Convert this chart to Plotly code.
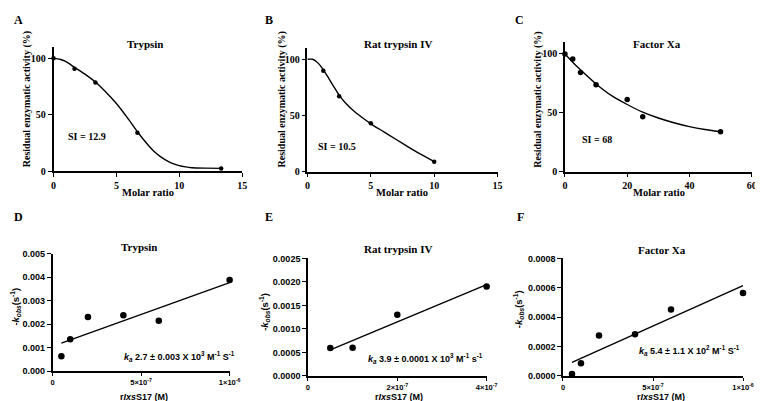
import plotly.graph_objects as go

# ---------------- data ----------------
# Panel A - Trypsin
A_x = [0, 1.67, 3.33, 6.67, 13.33]
A_y = [100, 90.8, 78.7, 34.2, 2.6]
A_curve_x = [0, 0.5, 1, 1.67, 2.5, 3.33, 4, 5, 6, 6.67, 7.5, 8, 8.5, 9, 9.5, 10, 10.5, 11, 12, 13.33]
A_curve_y = [100, 99.2, 97, 92, 86, 79, 72, 60, 45.5, 35, 23.5, 17.5, 13, 9.5, 6.8, 5, 3.9, 3.2, 2.8, 2.6]
# Panel B - Rat trypsin IV
B_x = [1.25, 2.5, 5, 10]
B_y = [89.8, 67, 42.9, 8.7]
B_curve_x = [0, 0.4, 0.7, 1.0, 1.25, 1.6, 2.0, 2.5, 3.0, 3.75, 4.5, 5, 6, 7, 8, 9, 10]
B_curve_y = [100, 100, 98, 94.5, 90.5, 84.5, 77, 68, 61, 53, 46.5, 42.5, 35.5, 28.5, 21.5, 15, 8.8]
# Panel C - Factor Xa
C_x = [0, 2.5, 5, 10, 20, 25, 50]
C_y = [100, 95.8, 84.2, 73.7, 61.2, 46.5, 33.8]
C_curve_x = [0, 2.5, 5, 10, 15, 20, 25, 30, 35, 40, 45, 50]
C_curve_y = [100, 93, 86.5, 74.5, 64.5, 57, 50.5, 45.5, 41.5, 38.2, 35.7, 33.8]
# Panel D - Trypsin kobs
D_x = [5e-8, 1e-7, 2e-7, 4e-7, 6e-7, 1e-6]
D_y = [0.00063, 0.00136, 0.0023, 0.00238, 0.00214, 0.00387]
D_fit_x = [5e-8, 1e-6]
D_fit_y = [0.00119, 0.00376]
# Panel E - Rat trypsin IV kobs
E_x = [5e-8, 1e-7, 2e-7, 4e-7]
E_y = [0.000595, 0.0006, 0.0013, 0.0019]
E_fit_x = [5e-8, 4e-7]
E_fit_y = [0.000555, 0.00194]
# Panel F - Factor Xa kobs
F_x = [5e-8, 1e-7, 2e-7, 4e-7, 6e-7, 1e-6]
F_y = [0.0000132, 0.0000861, 0.000276, 0.000283, 0.000452, 0.000565]
F_fit_x = [5e-8, 1e-6]
F_fit_y = [0.000092, 0.000614]

titles = ["Trypsin", "Rat trypsin IV", "Factor Xa"]
letters = ["A", "B", "C", "D", "E", "F"]
si_labels = ["SI = 12.9", "SI = 10.5", "SI = 68"]
ka_labels = [
    "<i>k</i><sub><i>a</i></sub> 2.7 ± 0.003 X 10<sup>3</sup> M<sup>-1</sup> S<sup>-1</sup>",
    "<i>k</i><sub><i>a</i></sub> 3.9 ± 0.0001 X 10<sup>3</sup> M<sup>-1</sup> s<sup>-1</sup>",
    "<i>k</i><sub><i>a</i></sub> 5.4 ± 1.1 X 10<sup>2</sup> M<sup>-1</sup> S<sup>-1</sup>",
]
top_xticks = [[0, 5, 10, 15], [0, 5, 10, 15], [0, 20, 40, 60]]
top_yticks = [0, 50, 100]
D_xticks = [0, 5e-7, 1e-6]
D_xticktext = ["0", "5×10<sup>-7</sup>", "1×10<sup>-6</sup>"]
E_xticks = [0, 2e-7, 4e-7]
E_xticktext = ["0", "2×10<sup>-7</sup>", "4×10<sup>-7</sup>"]
D_yticks = [0, 0.001, 0.002, 0.003, 0.004, 0.005]
D_yticktext = ["0.000", "0.001", "0.002", "0.003", "0.004", "0.005"]
E_yticks = [0, 0.0005, 0.001, 0.0015, 0.002, 0.0025]
E_yticktext = ["0.0000", "0.0005", "0.0010", "0.0015", "0.0020", "0.0025"]
F_yticks = [0, 0.0002, 0.0004, 0.0006, 0.0008]
F_yticktext = ["0.0000", "0.0002", "0.0004", "0.0006", "0.0008"]

# ---------------- layout helpers ----------------
W, H = 763, 401
def fx(p):
    return p / W
def fy(p):
    return 1 - p / H

SERIF = "Liberation Serif, Times New Roman, serif"
SANS = "Liberation Sans, Arial, sans-serif"

fig = go.Figure()

# panel geometry in pixels: (x0, x1, ybottom, ytop)
geo = [
    (43.3, 235.5, 162.8, 35.0),
    (302.0, 495.7, 163.0, 36.0),
    (564.3, 754.5, 163.0, 30.0),
    (42.3, 222.7, 368.3, 247.3),
    (302.5, 484.5, 373.2, 252.3),
    (562.3, 745.7, 373.2, 252.3),
]
xranges = [[0, 15], [0, 15], [0, 60], [0, 1e-6], [0, 4e-7], [0, 1e-6]]
yranges = [[0, 110], [0, 110], [0, 110], [0, 0.005], [0, 0.0025], [0, 0.0008]]

axis_common = dict(showline=True, linecolor="black", linewidth=1.5, ticks="outside",
                   ticklen=4, tickwidth=1.3, tickcolor="black", showgrid=False,
                   zeroline=False, fixedrange=True, ticklabeloverflow="allow")

layout = {}
for i, (x0, x1, yb, yt) in enumerate(geo):
    n = "" if i == 0 else str(i + 1)
    top = i < 3
    tf = dict(family=SERIF if top else SANS, size=10 if top else 9, color="black", weight="bold")
    xa = dict(axis_common, domain=[fx(x0), fx(x1)], range=xranges[i], anchor="y" + n,
              tickfont=tf)
    ya = dict(axis_common, domain=[fy(yb), fy(yt)], range=yranges[i], anchor="x" + n,
              tickfont=tf)
    if top:
        xa.update(tickmode="array", tickvals=top_xticks[i])
        ya.update(tickmode="array", tickvals=top_yticks)
    else:
        j = i - 3
        xa.update(tickmode="array", tickvals=[D_xticks, E_xticks, D_xticks][j],
                  ticktext=[D_xticktext, E_xticktext, D_xticktext][j],
                  tickfont=dict(tf, size=7.5), ticklen=3)
        ya.update(tickmode="array", tickvals=[D_yticks, E_yticks, F_yticks][j],
                  ticktext=[D_yticktext, E_yticktext, F_yticktext][j])
    layout["xaxis" + n] = xa
    layout["yaxis" + n] = ya

def add_pts(x, y, i, size):
    n = "" if i == 0 else str(i + 1)
    fig.add_trace(go.Scatter(x=x, y=y, mode="markers", xaxis="x" + n, yaxis="y" + n,
                             marker=dict(color="black", size=size), cliponaxis=False,
                             showlegend=False))

def add_line(x, y, i, spline=False):
    n = "" if i == 0 else str(i + 1)
    fig.add_trace(go.Scatter(x=x, y=y, mode="lines", xaxis="x" + n, yaxis="y" + n,
                             line=dict(color="black", width=1.4,
                                       shape="spline" if spline else "linear", smoothing=0.5),
                             cliponaxis=False, showlegend=False))

add_line(A_curve_x, A_curve_y, 0, True); add_pts(A_x, A_y, 0, 4.5)
add_line(B_curve_x, B_curve_y, 1, True); add_pts(B_x, B_y, 1, 4.5)
add_line(C_curve_x, C_curve_y, 2, True); add_pts(C_x, C_y, 2, 5.5)
add_line(D_fit_x, D_fit_y, 3); add_pts(D_x, D_y, 3, 6.5)
add_line(E_fit_x, E_fit_y, 4); add_pts(E_x, E_y, 4, 6.5)
add_line(F_fit_x, F_fit_y, 5); add_pts(F_x, F_y, 5, 6.5)

ann = []
def txt(text, x, y, family, size, angle=0, xanchor="center"):
    ann.append(dict(text=text, x=fx(x), y=fy(y), xref="paper", yref="paper",
                    showarrow=False, xanchor=xanchor, yanchor="middle", textangle=angle,
                    font=dict(family=family, size=size, color="black", weight="bold")))

# panel letters
for L, (x, y) in zip(letters, [(8, 7), (263, 7), (518, 7), (8, 210), (263, 210), (519, 210)]):
    txt(L, x, y, SERIF, 12)
# titles
for t, (x, y) in zip(titles, [(136, 32), (395, 32), (658, 32)]):
    txt(t, x, y, SERIF, 11)
for t, (x, y) in zip(titles, [(130, 241), (395, 243), (663, 244)]):
    txt(t, x, y, SERIF, 11)
# SI labels
for t, (x, y) in zip(si_labels, [(77, 127), (332, 137), (597, 130)]):
    txt(t, x, y, SERIF, 10)
# ka labels
for t, (x, y) in zip(ka_labels, [(230, 353), (483, 355), (745, 347)]):
    txt(t, x, y, SANS, 9, xanchor="right")
# x-axis titles
for x in [140, 398, 660]:
    txt("Molar ratio", x, 185, SERIF, 10.5)
for x in [135, 395, 662]:
    txt("r<i>Ixs</i>S17 (M)", x, 394.5, SANS, 9)
# y-axis titles
for x in [16, 276, 536]:
    txt("Residual enzymatic activity (%)", x, 89, SERIF, 10, angle=-90)
for x, y in [(5, 302), (258, 307), (517, 305)]:
    txt("-<i>k</i><sub><i>obs</i></sub>(s<sup>-1</sup>)", x, y, SANS, 9.5, angle=-90)

fig.update_layout(**layout)
fig.update_layout(width=W, height=H, autosize=False, margin=dict(l=0, r=0, t=0, b=0),
                  paper_bgcolor="white", plot_bgcolor="white", annotations=ann,
                  showlegend=False)
fig.write_html("out.html")
